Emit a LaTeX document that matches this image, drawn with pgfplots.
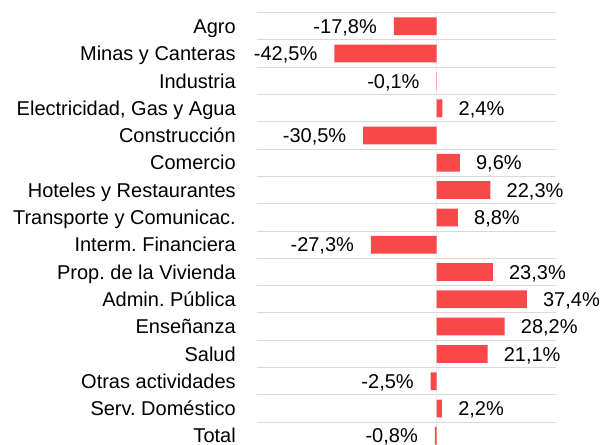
\documentclass[border=0pt]{standalone}
\usepackage{fontspec}
\setmainfont{Liberation Sans}
\usepackage{pgfplots}
\usepackage{pgfplotstable}
\pgfplotsset{compat=1.18}
\usetikzlibrary{calc}
\frenchspacing

\definecolor{barred}{RGB}{248,72,74}
\definecolor{gridgray}{RGB}{217,217,217}

% rows: 0 = Agro (top) ... 15 = Total (bottom)
\pgfplotstableread{
y  x      lab
0  -17.8  -17,8
1  -42.5  -42,5
2  -0.1   -0,1
4  -30.5  -30,5
8  -27.3  -27,3
13 -2.5   -2,5
15 -0.8   -0,8
}\negdata
\pgfplotstableread{
y  x     lab
3  2.4   2,4
5  9.6   9,6
6  22.3  22,3
7  8.8   8,8
9  23.3  23,3
10 37.4  37,4
11 28.2  28,2
12 21.1  21,1
14 2.2   2,2
}\posdata

\begin{document}
\begin{tikzpicture}[font=\fontsize{15}{18}\selectfont]
\begin{axis}[
  name=ax,
  scale only axis,
  width=224.25pt, height=327.6pt,
  xbar, bar width=0.65, bar shift=0,
  xmin=-74.56, xmax=49.5,
  ymin=-0.5, ymax=15.5, y dir=reverse,
  ytick={0,...,15},
  yticklabels={Agro, Minas y Canteras, Industria, {Electricidad, Gas y Agua},
    Construcción, Comercio, Hoteles y Restaurantes, Transporte y Comunicac.,
    Interm. Financiera, Prop. de la Vivienda, Admin. Pública, Enseñanza,
    Salud, Otras actividades, Serv. Doméstico, Total},
  minor ytick={-0.5,0.5,...,15.5},
  yminorgrids,
  minor grid style={gridgray, line width=0.8pt},
  xtick={0}, xticklabel=\empty,
  xmajorgrids,
  major grid style={gridgray!110!black, line width=1.1pt},
  major tick length=0pt, minor tick length=0pt,
  axis line style={draw=none},
  clip=false,
  y tick label style={inner xsep=0pt, inner ysep=0pt, text height=10.7pt,
    text depth=0pt, xshift=-15.75pt},
  point meta=explicit symbolic,
  nodes near coords={\pgfplotspointmeta\%},
]
\addplot[draw=none, fill=barred,
  every node near coord/.append style={anchor=east, inner xsep=0pt,
    inner ysep=0pt, text height=10.7pt, text depth=0pt, xshift=-12.5pt}]
  table[x=x, y=y, meta=lab] {\negdata};
\addplot[draw=none, fill=barred,
  every node near coord/.append style={anchor=west, inner xsep=0pt,
    inner ysep=0pt, text height=10.7pt, text depth=0pt, xshift=12pt}]
  table[x=x, y=y, meta=lab] {\posdata};
\end{axis}
\pgfresetboundingbox
\path ($(ax.north west)+(-192.75pt,9.5pt)$) rectangle ($(ax.north west)+(260.25pt,-324.25pt)$);
\end{tikzpicture}
\end{document}
